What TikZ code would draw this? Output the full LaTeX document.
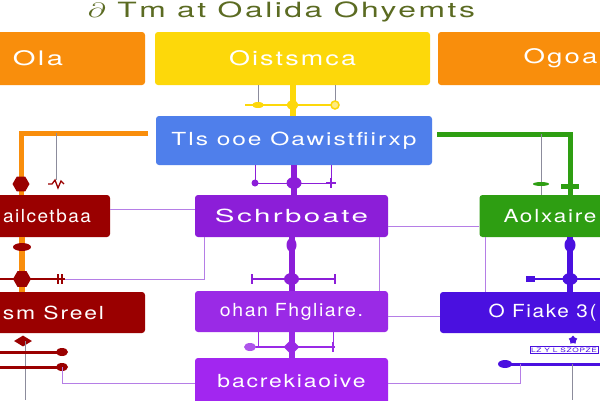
\documentclass[tikz,border=0pt]{standalone}
\usepackage{graphicx}
\usepackage{fontspec}
\setmainfont{TeX Gyre Heros}[LetterSpace=8]
\usetikzlibrary{shapes.geometric}
\definecolor{cOra}{HTML}{F98E0C}
\definecolor{cYel}{HTML}{FDD80A}
\definecolor{cBlu}{HTML}{4F7FEB}
\definecolor{cRed}{HTML}{9A0000}
\definecolor{cPur}{HTML}{8C1ED8}
\definecolor{cPurB}{HTML}{9A2AE6}
\definecolor{cPurC}{HTML}{A226F0}
\definecolor{cGrn}{HTML}{2E9E12}
\definecolor{cInd}{HTML}{4A10E0}
\definecolor{cOli}{HTML}{5B6B22}
\definecolor{cLav}{HTML}{B57EE6}
\definecolor{cGry}{HTML}{8C8C9C}
\newcommand{\wt}[2]{\resizebox{#1pt}{\height}{#2}}
\begin{document}
\begin{tikzpicture}[x=1pt,y=-1pt,
  box/.style={rounded corners=3pt, text=white, inner sep=0pt, font=\fontsize{18}{18}\selectfont},
  bigbox/.style={box, minimum height=53pt, font=\fontsize{20}{20}\selectfont},
  midbox/.style={box, minimum height=42pt},
  thinl/.style={line width=0.9pt},
  lav/.style={cLav, thinl},
  gry/.style={cGry, thinl},
  ell/.style={ellipse, inner sep=0pt, draw=none},
  hexm/.style={regular polygon, regular polygon sides=6, inner sep=0pt, fill=cRed, draw=none},
  dmd/.style={diamond, inner sep=0pt, draw=none},
]
\useasboundingbox (0,0) rectangle (600,400);
\clip (0,0) rectangle (600,400);
\fill[white] (0,0) rectangle (600,400);

% title
\node[font=\fontsize{21}{21}\selectfont, text=cOli] (title) at (281.5,11.5) {\wt{387}{$\partial$ Tm at Oalida Ohyemts}};

% coordinates
\coordinate (yA) at (258,105);
\coordinate (yB) at (335,105);
\coordinate (yL) at (245,105);
\coordinate (pA) at (255,183);
\coordinate (pB) at (331,183);
\coordinate (oA) at (148,133);
\coordinate (oB) at (21,133);
\coordinate (gA) at (56,133);
\coordinate (gB) at (56,180);
\coordinate (gnA) at (437,134);
\coordinate (gnB) at (570,134);
\coordinate (gnC) at (541,134);
\coordinate (lv1) at (110,209);
\coordinate (lv2) at (388,226);
\coordinate (lv3) at (204,279);
\coordinate (lv4) at (62,279);
\coordinate (oD) at (22,0);
\coordinate (rd1) at (0,279);
\coordinate (rd2) at (65,279);
\coordinate (pC) at (252,279);
\coordinate (pD) at (335,279);
\coordinate (lv5) at (379,0);
\coordinate (lv6) at (485,0);
\coordinate (in1) at (570,0);
\coordinate (inA) at (530,279);
\coordinate (inB) at (600,279);
\coordinate (lv7) at (388,316);
\coordinate (rd3) at (0,352);
\coordinate (rd4) at (62,352);
\coordinate (rd5) at (0,367);
\coordinate (rd6) at (62,367);
\coordinate (gr1) at (25,341);
\coordinate (gr2) at (25,400);
\coordinate (lv8) at (62,383);
\coordinate (pE) at (250,347);
\coordinate (pF) at (335,347);
\coordinate (pG) at (258,0);
\coordinate (pH) at (333,0);
\coordinate (in2) at (505,364);
\coordinate (in3) at (600,364);
\coordinate (lv9) at (520,383);
\coordinate (in5) at (572,364);
\coordinate (in6) at (572,400);

% boxes
\node[bigbox, fill=cOra, minimum width=214pt] (o1) at (38,58.5) {\wt{50}{Ola}};
\node[bigbox, fill=cYel, minimum width=275pt] (y2) at (292.5,58.5) {\wt{127}{Oistsmca}};
\node[bigbox, fill=cOra, minimum width=245pt] (o3) at (560.5,58.5) {\wt{74}{Ogoa}};
\node[box, fill=cBlu, minimum width=276pt, minimum height=49pt] (bl) at (294,140.5) {\wt{245}{Tls ooe Oawistfiirxp}};
\node[midbox, fill=cRed, minimum width=126pt] (r5) at (47,216) {\wt{88}{ailcetbaa}};
\node[midbox, fill=cPur, minimum width=193pt] (p6) at (291.5,216) {\wt{153}{Schrboate}};
\node[midbox, fill=cGrn, minimum width=141pt] (g7) at (550,216) {\wt{93}{Aolxaire}};
\node[box, fill=cRed, minimum width=183pt, minimum height=41pt] (r8) at (53.5,312.5) {\wt{101}{sm Sreel}};
\node[box, fill=cPurB, minimum width=193pt, minimum height=41pt] (p9) at (291.5,311.5) {\wt{143}{ohan Fhgliare.}};
\node[box, fill=cInd, minimum width=205pt, minimum height=41pt] (i10) at (542.5,312.5) {\wt{108}{O Fiake 3(}};
\node[box, fill=cPurC, minimum width=193pt, minimum height=46pt] (p11) at (291.5,381) {\wt{148}{bacrekiaoive}};

% yellow connectors
\draw[gry] (y2.south -| yA) -- (yA);
\draw[gry] (y2.south -| yB) -- (yB);
\draw[cYel, line width=1.3pt] (yL) -- (yB);
\draw[cYel, line width=6pt] (y2.south) -- (y2.south |- bl.north);
\node[ell, fill=cYel, minimum width=12pt, minimum height=6pt] (ym1) at (yA) {};
\node[ell, fill=cYel, minimum width=12pt, minimum height=9pt] (ym2) at (y2.south |- yA) {};
\node[circle, draw=cYel, line width=1.5pt, fill=cYel!50, minimum size=8pt, inner sep=0pt] (ym3) at (yB) {};

% blue -> purple
\draw[cPur, line width=6pt] (bl.south) -- (bl.south |- p6.north);
\draw[cPur, thinl] (bl.south -| pA) -- (pA) -- (pB);
\draw[cPur, thinl] (bl.south -| pB) -- (pB);
\node[ell, fill=cPur, minimum width=7pt, minimum height=7pt] (pm1) at (pA) {};
\node[ell, fill=cPur, minimum width=15pt, minimum height=12pt] (pm2) at (bl.south |- pA) {};
\draw[cPur, line width=2pt] (pB) ++(0,-5) -- ++(0,10) (pB) ++(-5,0) -- ++(10,0);

% orange L
\draw[cOra, line width=5pt] (oA) -- (oB) -- (oB |- r5.north);
\node[hexm, minimum size=17pt] (h1) at (21,184) {};
\draw[gry] (gA) -- (gB);
\draw[cRed, line width=1.3pt] (gB) ++(-8,4) -- ++(4,0) -- ++(3,-4) -- ++(3,8) -- ++(3,-7) -- ++(3,3);

% green L
\draw[cGrn, line width=5pt] (gnA) -- (gnB) -- (gnB |- g7.north);
\node[draw=none, fill=cGrn, minimum width=18pt, minimum height=5pt, inner sep=0pt] (gm1) at (570,186) {};
\draw[gry] (gnC) -- (gnC |- g7.north);
\node[ell, fill=cGrn, minimum width=16pt, minimum height=4pt] (gm2) at (541,184) {};

% thin lavender links
\draw[lav] (lv1) -- (lv1 -| p6.west);
\draw[lav] (lv2) -- (lv2 -| g7.west);
\draw[lav] (p6.south -| lv3) -- (lv3) -- (lv4);
\draw[lav] (p6.south -| lv5) -- (p9.north -| lv5);
\draw[lav] (g7.south -| lv6) -- (i10.north -| lv6);
\draw[lav] (lv7) -- (lv7 -| i10.west);

% red / orange between r5 and r8
\draw[cOra, line width=6pt] (r5.south -| oD) -- (r8.north -| oD);
\draw[cRed, line width=1.5pt] (rd1) -- (rd2);
\node[ell, fill=cRed, minimum width=18pt, minimum height=8pt] (rm1) at (22,247) {};
\node[hexm, minimum size=18pt] (rm2) at (22,279) {};
\draw[cRed, line width=1.6pt] (58,274) -- (58,284) (62,274) -- (62,284);

% purple between p6 and p9
\draw[cPur, line width=6pt] (p6.south) -- (p6.south |- p9.north);
\draw[cPur, line width=1.5pt] (pC) -- (pD);
\node[ell, fill=cPur, minimum width=10pt, minimum height=14pt] (pm3) at (p6.south |- 0,245) {};
\node[ell, fill=cPur, minimum width=15pt, minimum height=12pt] (pm4) at (p6.south |- pC) {};
\draw[cPur, line width=2pt] (pC) ++(0,-5) -- ++(0,10) (pD) ++(0,-5) -- ++(0,10);

% indigo between g7 and i10
\draw[cInd, line width=6pt] (g7.south -| in1) -- (i10.north -| in1);
\draw[cInd, line width=2pt] (inA) -- (inB);
\node[ell, fill=cInd, minimum width=11pt, minimum height=14pt] (im1) at (570,245) {};
\node[ell, fill=cInd, minimum width=15pt, minimum height=12pt] (im2) at (570,279) {};
\node[fill=cInd, minimum width=9pt, minimum height=6pt, inner sep=0pt] (im3) at (inA) {};

% below r8
\node[dmd, fill=cRed, minimum width=18pt, minimum height=11pt] (dm) at (23,341) {};
\draw[gry] (gr1) -- (gr2);
\draw[cRed, line width=3pt] (rd3) -- (rd4);
\draw[cRed, line width=3pt] (rd5) -- (rd6);
\node[ell, fill=cRed, minimum width=12pt, minimum height=8pt] (rm3) at (rd4) {};
\node[ell, fill=cRed, minimum width=12pt, minimum height=8pt] (rm4) at (rd6) {};
\draw[lav] (rd6) -- (lv8) -- (lv8 -| p11.west);

% below p9
\draw[cPurB, line width=6pt] (p9.south) -- (p9.south |- p11.north);
\draw[cPurB, thinl] (p9.south -| pG) -- (pG |- pE);
\draw[cPurB, thinl] (p9.south -| pH) -- (pH |- pE);
\draw[cPurB, line width=1.5pt] (pE) -- (pF);
\node[dmd, fill=cPurB, minimum width=16pt, minimum height=16pt] (pm5) at (p9.south |- pE) {};
\node[ell, fill=cPurB!80, minimum width=12pt, minimum height=8pt] (pm6) at (pE) {};
\draw[cPurB, line width=2pt] (pH |- pE) ++(0,-5) -- ++(0,10);

% below i10
\node[star, star points=5, fill=cInd, minimum size=9pt, inner sep=0pt] (st) at (573,340) {};
\node[draw=cInd, line width=1pt, fill=white, text=cInd, inner sep=1pt, font=\fontsize{6}{6}\selectfont] (tb) at (564,350) {\wt{66}{LZ Y L SZOPZE}};
\draw[cInd, line width=3pt] (in2) -- (in3);
\node[ell, fill=cInd, minimum width=14pt, minimum height=8pt] (im4) at (in2) {};
\draw[lav] (in2 -| lv9) -- (lv9) -- (lv9 -| p11.east);
\draw[gry] (in5) -- (in6);
\end{tikzpicture}
\end{document}
